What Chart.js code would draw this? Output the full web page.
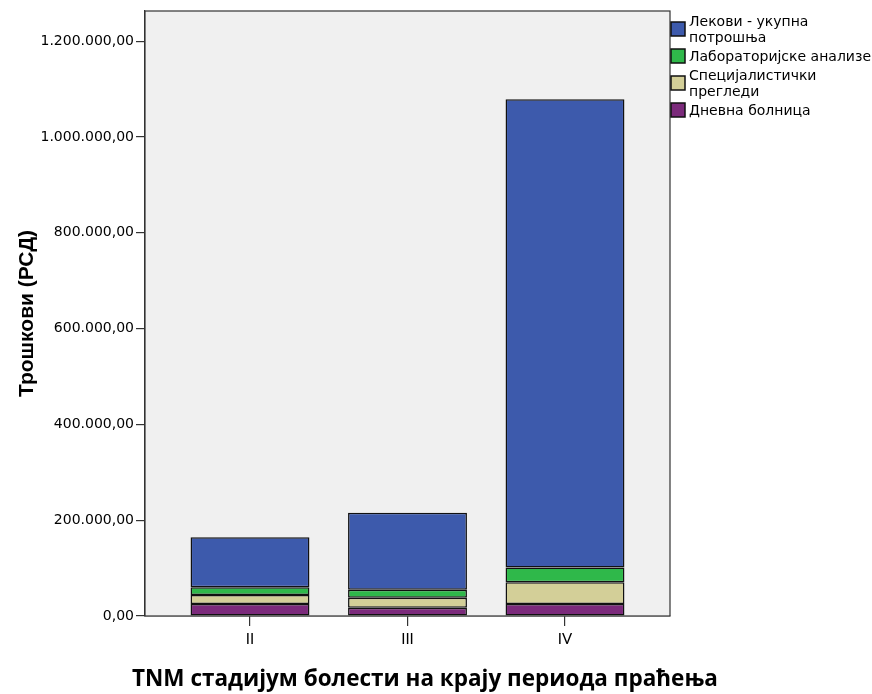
<!DOCTYPE html>
<html><head><meta charset="utf-8">
<script src="https://cdn.jsdelivr.net/npm/chart.js@4.4.1/dist/chart.umd.min.js"></script>
<style>html,body{margin:0;padding:0;background:#fff}#wrap{width:872px;height:694px;position:relative}</style>
</head><body><div id="wrap"><canvas id="c" width="872" height="694"></canvas></div>
<script>
const categories = ['II', 'III', 'IV'];
const dnevnaBolnica = [25100, 17400, 25100];
const specijalisticki = [18800, 20900, 45400];
const laboratorijske = [16100, 16700, 30500];
const lekovi = [104500, 160400, 978000];
const yTickValues = [0, 200000, 400000, 600000, 800000, 1000000, 1200000];
const yMax = 1263000;
const seriesLabels = [
  ['Дневна болница'],
  ['Специјалистички', 'прегледи'],
  ['Лабораторијске анализе'],
  ['Лекови - укупна', 'потрошња']
];
const seriesColors = ['#7b2a7b', '#d3cf98', '#2fb84a', '#3d5aac'];
const yTitle = 'Трошкови (РСД)';
const xTitle = 'TNM стадијум болести на крају периода праћења';

function fmt(v) {
  const s = String(Math.round(v)).replace(/\B(?=(\d{3})+(?!\d))/g, '.');
  return s + ',00';
}
function pts(arr) { return arr.map((v, i) => ({x: i, y: v})); }

const seriesData = [dnevnaBolnica, specijalisticki, laboratorijske, lekovi];

const framePlugin = {
  id: 'frame',
  beforeDatasetsDraw(chart) {
    const {ctx, chartArea: a} = chart;
    ctx.save();
    ctx.fillStyle = '#f0f0f0';
    ctx.fillRect(a.left, a.top, a.right - a.left, a.bottom - a.top);
    ctx.strokeStyle = '#333';
    ctx.lineWidth = 1.2;
    ctx.strokeRect(a.left, a.top, a.right - a.left, a.bottom - a.top);
    ctx.restore();
  },
  afterDraw(chart) {
    const {ctx, chartArea: a} = chart;
    ctx.save();
    // x title
    ctx.font = 'bold 22.5px "Open Sans", Lato, sans-serif';
    ctx.fillStyle = '#000';
    ctx.textAlign = 'center';
    ctx.textBaseline = 'middle';
    ctx.fillText(xTitle, 425, 680);
    // legend
    const boxX = a.right + 1, boxW = 14, boxH = 14;
    const tops = [22, 49, 76, 103];
    ctx.font = '14px "DejaVu Sans", sans-serif';
    ctx.textAlign = 'left';
    const order = [3, 2, 1, 0];
    order.forEach((di, k) => {
      const ds = chart.data.datasets[di];
      const t = tops[k];
      ctx.fillStyle = ds.backgroundColor;
      ctx.fillRect(boxX, t, boxW, boxH);
      ctx.strokeStyle = '#111';
      ctx.lineWidth = 1.5;
      ctx.strokeRect(boxX, t, boxW, boxH);
      const lines = seriesLabels[di];
      const cy = t + boxH / 2 + 1;
      const lh = 16;
      ctx.fillStyle = '#000';
      lines.forEach((ln, j) => {
        const y = cy + (j - (lines.length - 1) / 2) * lh;
        ctx.fillText(ln, boxX + 18, y);
      });
    });
    ctx.restore();
  }
};

new Chart(document.getElementById('c'), {
  type: 'bar',
  data: {
    datasets: seriesData.map((arr, i) => ({
      label: seriesLabels[i].join(' '),
      data: pts(arr),
      backgroundColor: seriesColors[i],
      borderColor: '#111',
      borderWidth: 1.5,
      borderSkipped: false,
      barPercentage: 0.755,
      categoryPercentage: 1
    }))
  },
  options: {
    responsive: false,
    animation: false,
    layout: {padding: {top: 11, right: 202, left: 0, bottom: 0}},
    plugins: {legend: {display: false}, tooltip: {enabled: false}},
    scales: {
      x: {
        type: 'linear',
        stacked: true,
        offset: false,
        min: -2 / 3,
        max: 8 / 3,
        afterBuildTicks(s) { s.ticks = categories.map((c, i) => ({value: i})); },
        afterFit(s) { s.height = 78; },
        grid: {display: true, offset: false, drawOnChartArea: false, drawTicks: true, tickLength: 10, color: '#333', lineWidth: 1.2},
        border: {display: true, color: '#333', width: 1.2},
        ticks: {
          autoSkip: false,
          maxRotation: 0,
          padding: 4,
          color: '#000',
          font: {family: 'Lato, sans-serif', size: 15},
          callback: (v) => categories[Math.round(v)]
        }
      },
      y: {
        stacked: true,
        min: 0,
        max: yMax,
        afterBuildTicks(s) { s.ticks = yTickValues.map(v => ({value: v})); },
        afterFit(s) { s.width = 145; },
        grid: {display: true, drawOnChartArea: false, drawTicks: true, tickLength: 9, color: '#333', lineWidth: 1.2},
        border: {display: true, color: '#333', width: 1.2},
        ticks: {
          padding: 2,
          color: '#000',
          font: {family: '"DejaVu Sans", sans-serif', size: 14},
          callback: (v) => fmt(v)
        },
        title: {
          display: true,
          text: yTitle,
          color: '#000',
          font: {family: '"Liberation Sans", Arial, sans-serif', size: 21, weight: 'bold'},
          padding: {top: 15, bottom: 0}
        }
      }
    }
  },
  plugins: [framePlugin]
});
</script>
</body></html>
